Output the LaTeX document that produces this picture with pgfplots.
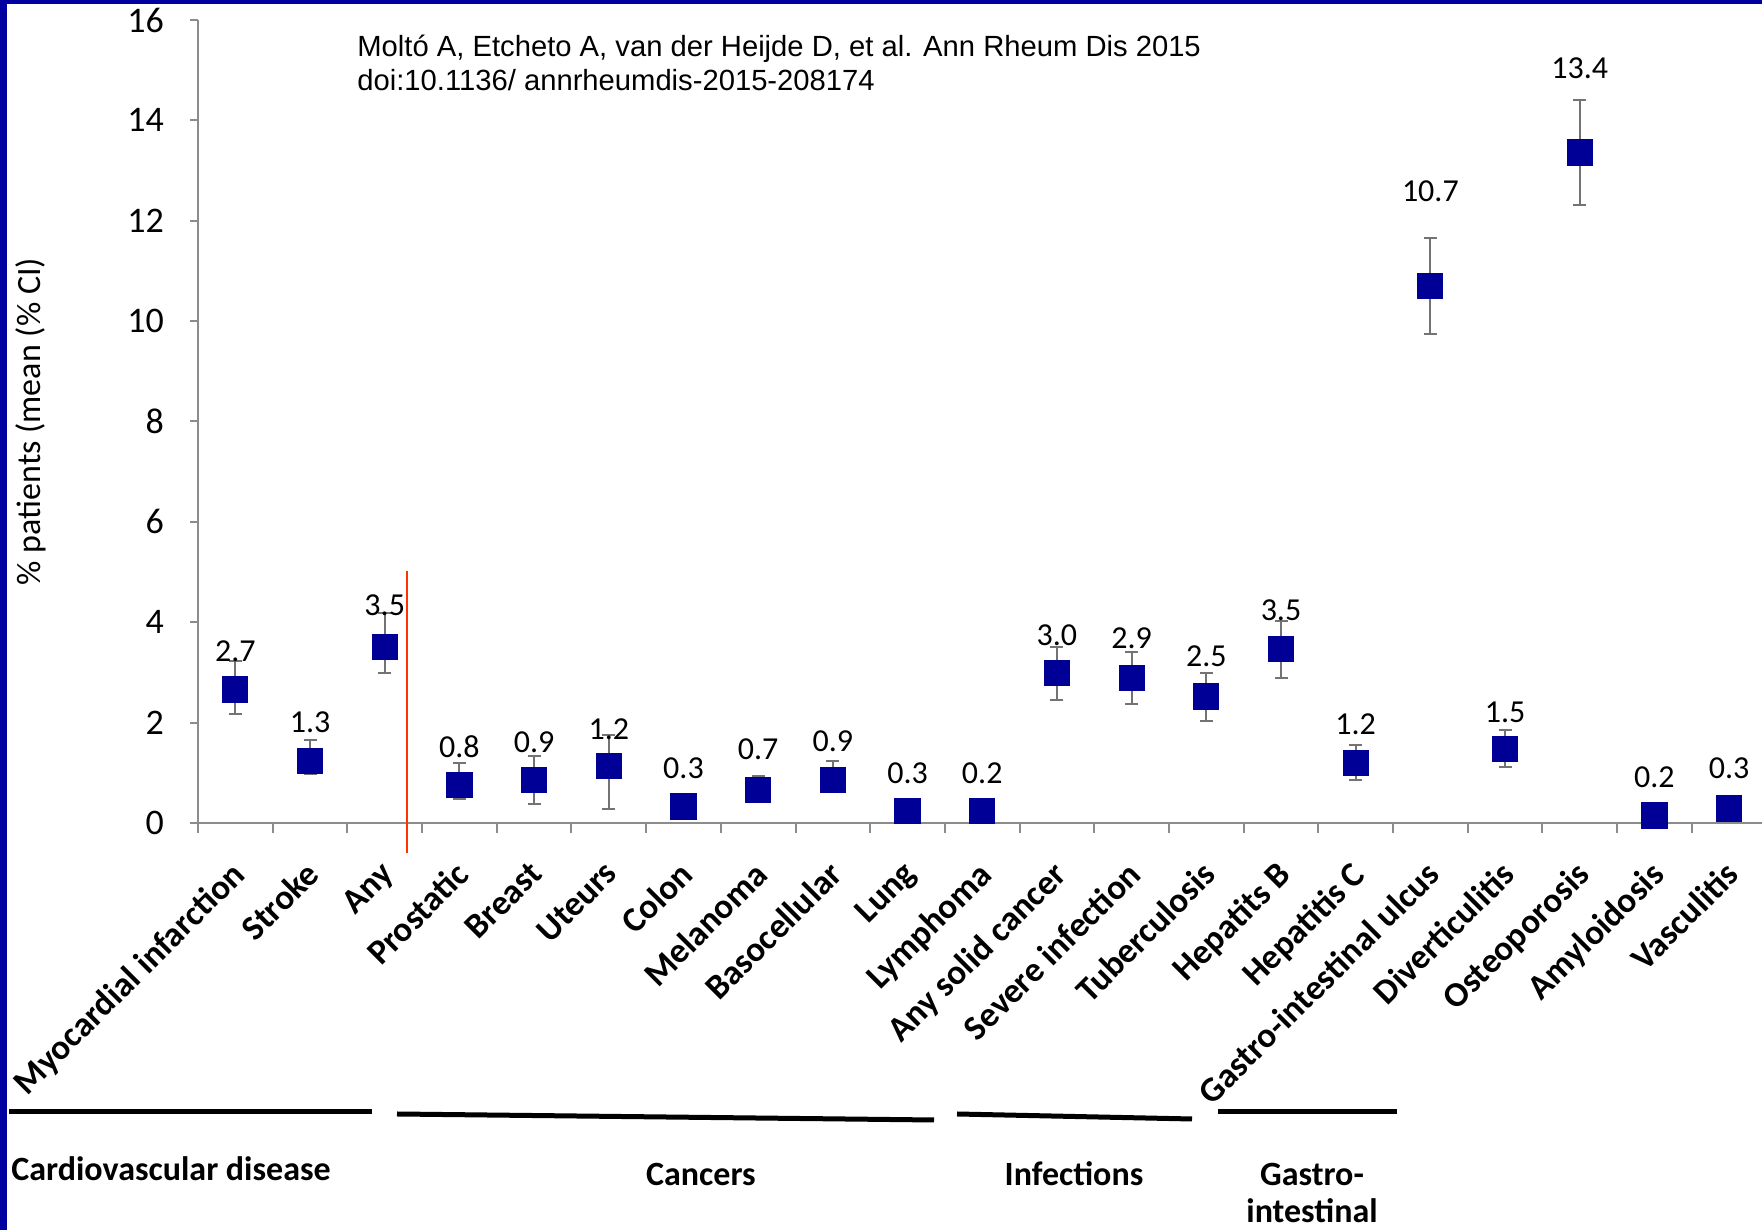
\documentclass[border=0pt]{standalone}
\usepackage{fontspec}
\setmainfont{Carlito}
\newfontfamily\arialfont{Liberation Sans}
\usepackage{pgfplots}
\usepackage{pgfplotstable}
\pgfplotsset{compat=1.18}
\definecolor{framebl}{RGB}{0,0,160}
\definecolor{axisgray}{RGB}{140,140,140}
\definecolor{errgray}{RGB}{115,115,115}
\definecolor{mknavy}{RGB}{0,0,150}
\definecolor{redline}{RGB}{255,51,0}

\pgfplotstableread{
x y lo hi ly lab
0 2.66 2.18 3.23 3.43 2.7
1 1.24 0.97 1.66 2.00 1.3
2 3.51 2.99 4.19 4.33 3.5
3 0.76 0.48 1.19 1.53 0.8
4 0.86 0.38 1.33 1.60 0.9
5 1.14 0.28 1.75 1.87 1.2
6 0.33 0.20 0.45 1.09 0.3
7 0.66 0.44 0.94 1.47 0.7
8 0.86 0.64 1.23 1.62 0.9
9 0.24 0.12 0.36 1.00 0.3
10 0.24 0.12 0.36 1.00 0.2
11 2.99 2.46 3.50 3.75 3.0
12 2.89 2.38 3.41 3.68 2.9
13 2.52 2.04 2.99 3.32 2.5
14 3.47 2.89 4.03 4.24 3.5
15 1.19 0.85 1.56 1.96 1.2
16 10.70 9.75 11.65 12.59 10.7
17 1.47 1.11 1.85 2.20 1.5
18 13.36 12.31 14.40 15.03 13.4
19 0.15 0.05 0.25 0.91 0.2
20 0.29 0.18 0.40 1.09 0.3
}\datatable

\begin{document}
\begin{tikzpicture}
\path[use as bounding box] (0,0) rectangle (881pt,615pt);
\fill[framebl] (0,0) rectangle (881pt,615pt);
\fill[white] (3.5pt,0) rectangle (881pt,613pt);

\begin{axis}[
  at={(99pt,203.5pt)}, anchor=south west,
  scale only axis, width=782pt, height=401.5pt,
  xmin=-0.5, xmax=20.44, ymin=0, ymax=16,
  axis lines=left,
  axis line style={-, draw=axisgray, line width=1pt},
  clip=false,
  ytick={0,2,...,16},
  xtick={0,...,20},
  xticklabels={Myocardial infarction, Stroke, Any, Prostatic, Breast, Uteurs, Colon, Melanoma, Basocellular, Lung, Lymphoma, Any solid cancer, Severe infection, Tuberculosis, Hepatits B, Hepatitis C, Gastro-intestinal ulcus, Diverticulitis, Osteoporosis, Amyloidosis, Vasculitis},
  minor xtick={-0.5,0.5,...,19.5},
  tick align=outside,
  major tick length=4pt, minor tick length=5pt,
  tick style={draw=axisgray, line width=1pt},
  major x tick style={draw=none},
  /pgf/number format/assume math mode=true,
  yticklabel style={font=\fontsize{18}{20}\selectfont, xshift=-9.5pt},
  xticklabel style={font=\bfseries\fontsize{17.5}{20}\selectfont, inner sep=0pt, xshift=-3pt, yshift=-14pt, rotate=45, anchor=north east},
  ylabel={\% patients (mean (\% CI)},
  ylabel style={at={(axis description cs:-0.107,0.5)}, anchor=center, font=\fontsize{17}{20}\selectfont},
]
\addplot[draw=none, mark=none, error bars/.cd, y dir=both, y explicit,
  error bar style={draw=errgray, line width=1pt},
  error mark options={rotate=90, mark size=3.25pt, draw=errgray, line width=1pt}]
  table[x=x, y=y, y error plus expr=\thisrow{hi}-\thisrow{y}, y error minus expr=\thisrow{y}-\thisrow{lo}] {\datatable};
\addplot[only marks, mark=square*, mark size=6.25pt, mark options={fill=mknavy, draw=mknavy, line width=0.6pt, rounded corners=1.5pt}]
  table[x=x, y=y] {\datatable};
\addplot[draw=none, mark=none, nodes near coords, point meta=explicit symbolic,
  nodes near coords align=center,
  every node near coord/.append style={font=\fontsize{16}{18}\selectfont, text=black, inner sep=0pt}]
  table[x=x, y=ly, meta=lab] {\datatable};
\draw[redline, line width=0.9pt] (axis cs:2.3,5.02) -- (axis cs:2.3,-0.6);
\end{axis}

\node[font=\arialfont\fontsize{14.6}{15}\selectfont, anchor=base west, inner sep=0pt] at (178.5pt,586.7pt) {Moltó A, Etcheto A, van der Heijde D, et al. Ann Rheum Dis 2015};
\node[font=\arialfont\fontsize{14.6}{15}\selectfont, anchor=base west, inner sep=0pt] at (178.5pt,569.5pt) {doi:10.1136/ annrheumdis-2015-208174};

\draw[black, line width=2.5pt] (4.5pt,59pt) -- (186pt,59pt);
\draw[black, line width=2.5pt] (198.5pt,58pt) -- (467pt,55pt);
\draw[black, line width=2.5pt] (478.5pt,58pt) -- (596pt,55.5pt);
\draw[black, line width=2.5pt] (609pt,59pt) -- (698.5pt,59pt);

\begin{scope}[every node/.style={font=\bfseries\fontsize{17}{19}\selectfont, inner sep=0pt}]
\node[anchor=west] at (5.5pt,30.5pt) {Cardiovascular disease};
\node at (350.5pt,28pt) {Cancers};
\node at (537pt,28pt) {Infections};
\node at (656pt,28pt) {Gastro-};
\node at (656pt,9.5pt) {intestinal};
\end{scope}
\end{tikzpicture}
\end{document}
